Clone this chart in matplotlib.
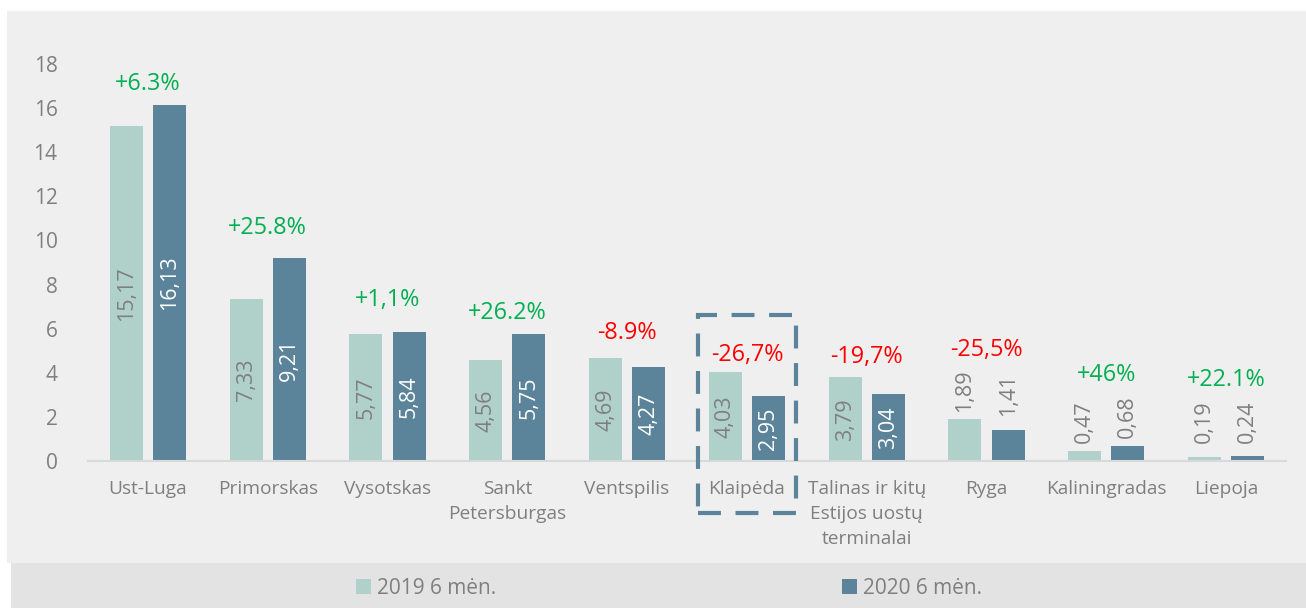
import numpy as np
import matplotlib.pyplot as plt
from matplotlib.patches import Rectangle

plt.rcParams['font.family'] = ['Open Sans', 'DejaVu Sans']

ports = ["Ust-Luga", "Primorskas", "Vysotskas", "Sankt\nPetersburgas", "Ventspilis",
         "Klaipėda", "Talinas ir kitų\nEstijos uostų\nterminalai", "Ryga",
         "Kaliningradas", "Liepoja"]
v2019 = [15.17, 7.33, 5.77, 4.56, 4.69, 4.03, 3.79, 1.89, 0.47, 0.19]
v2020 = [16.13, 9.21, 5.84, 5.75, 4.27, 2.95, 3.04, 1.41, 0.68, 0.24]
lbl2019 = ["15,17", "7,33", "5,77", "4,56", "4,69", "4,03", "3,79", "1,89", "0,47", "0,19"]
lbl2020 = ["16,13", "9,21", "5,84", "5,75", "4,27", "2,95", "3,04", "1,41", "0,68", "0,24"]
changes = ["+6.3%", "+25.8%", "+1,1%", "+26.2%", "-8.9%", "-26,7%", "-19,7%", "-25,5%", "+46%", "+22.1%"]

# label layout (hand placed in the original)
pct_lift = [0.96, 1.35, 1.46, 0.96, 1.11, 0.77, 0.92, 3.14, 3.22, 3.43]
outside = [False] * 7 + [True] * 3

c_light = "#b0d1ca"
c_dark = "#5b849b"
grey = "#7f7f7f"

fig = plt.figure(figsize=(13.06, 6.08), dpi=100)
fig.patch.set_facecolor("white")
fig.patches.append(Rectangle((7 / 1306, 45 / 608), 1, 552 / 608, transform=fig.transFigure,
                             facecolor="#efefef", edgecolor="none", zorder=-5))
fig.patches.append(Rectangle((11 / 1306, 0), 1, 45 / 608, transform=fig.transFigure,
                             facecolor="#e3e3e3", edgecolor="none", zorder=-5))

ax = fig.add_axes([88 / 1306, 147 / 608, 1198 / 1306, 397 / 608])
ax.set_facecolor("none")

x = np.arange(len(ports))
w = 0.275
off = 0.18
b1 = ax.bar(x - off, v2019, w, color=c_light, label="2019 6 mėn.", zorder=2)
b2 = ax.bar(x + off, v2020, w, color=c_dark, label="2020 6 mėn.", zorder=2)

vfs = 15.5
for i in range(len(ports)):
    if outside[i]:
        ax.text(x[i] - off, max(v2019[i], 0.45) + 0.35, lbl2019[i], rotation=90, ha="center",
                va="bottom", color=grey, fontsize=vfs)
        ax.text(x[i] + off, max(v2020[i], 0.45) + 0.35 + (0.3 if i == 7 else 0), lbl2020[i],
                rotation=90, ha="center", va="bottom", color=grey, fontsize=vfs)
    else:
        ax.text(x[i] - off, v2019[i] / 2, lbl2019[i], rotation=90, ha="center", va="center",
                color=grey, fontsize=vfs)
        ax.text(x[i] + off, v2020[i] / 2, lbl2020[i], rotation=90, ha="center", va="center",
                color="white", fontsize=vfs)
    col = "#00b050" if changes[i].startswith("+") else "#ff0000"
    ax.text(x[i], max(v2019[i], v2020[i]) + pct_lift[i], changes[i], ha="center", va="center",
            color=col, fontsize=16.8)

# dashed frame around Klaipeda
k = ports.index("Klaipėda")
ax.add_patch(Rectangle((k - 0.41, -2.36), 0.82, 8.98, fill=False, edgecolor=c_dark, lw=3,
                       linestyle=(0, (5.5, 3.5)), clip_on=False, zorder=3))

ax.set_xlim(-0.5, len(ports) - 0.5)
ax.set_ylim(0, 18)
ax.set_yticks(range(0, 19, 2))
ax.set_xticks(x)
ax.set_xticklabels(ports, linespacing=1.5)
ax.tick_params(axis="both", length=0, colors=grey)
ax.tick_params(axis="x", pad=14, labelsize=13.8)
ax.tick_params(axis="y", pad=22, labelsize=15)
for s in ["top", "right", "left"]:
    ax.spines[s].set_visible(False)
ax.spines["bottom"].set_color("#d9d9d9")
ax.spines["bottom"].set_linewidth(1.5)

leg = fig.legend(handles=[b1, b2], loc="center", bbox_to_anchor=(669 / 1306, 20 / 608), ncol=2,
                 frameon=False, fontsize=15, labelcolor=grey, handlelength=0.7, handleheight=0.7,
                 handletextpad=0.3, columnspacing=16.6)

fig.savefig("out.png", dpi=100)
